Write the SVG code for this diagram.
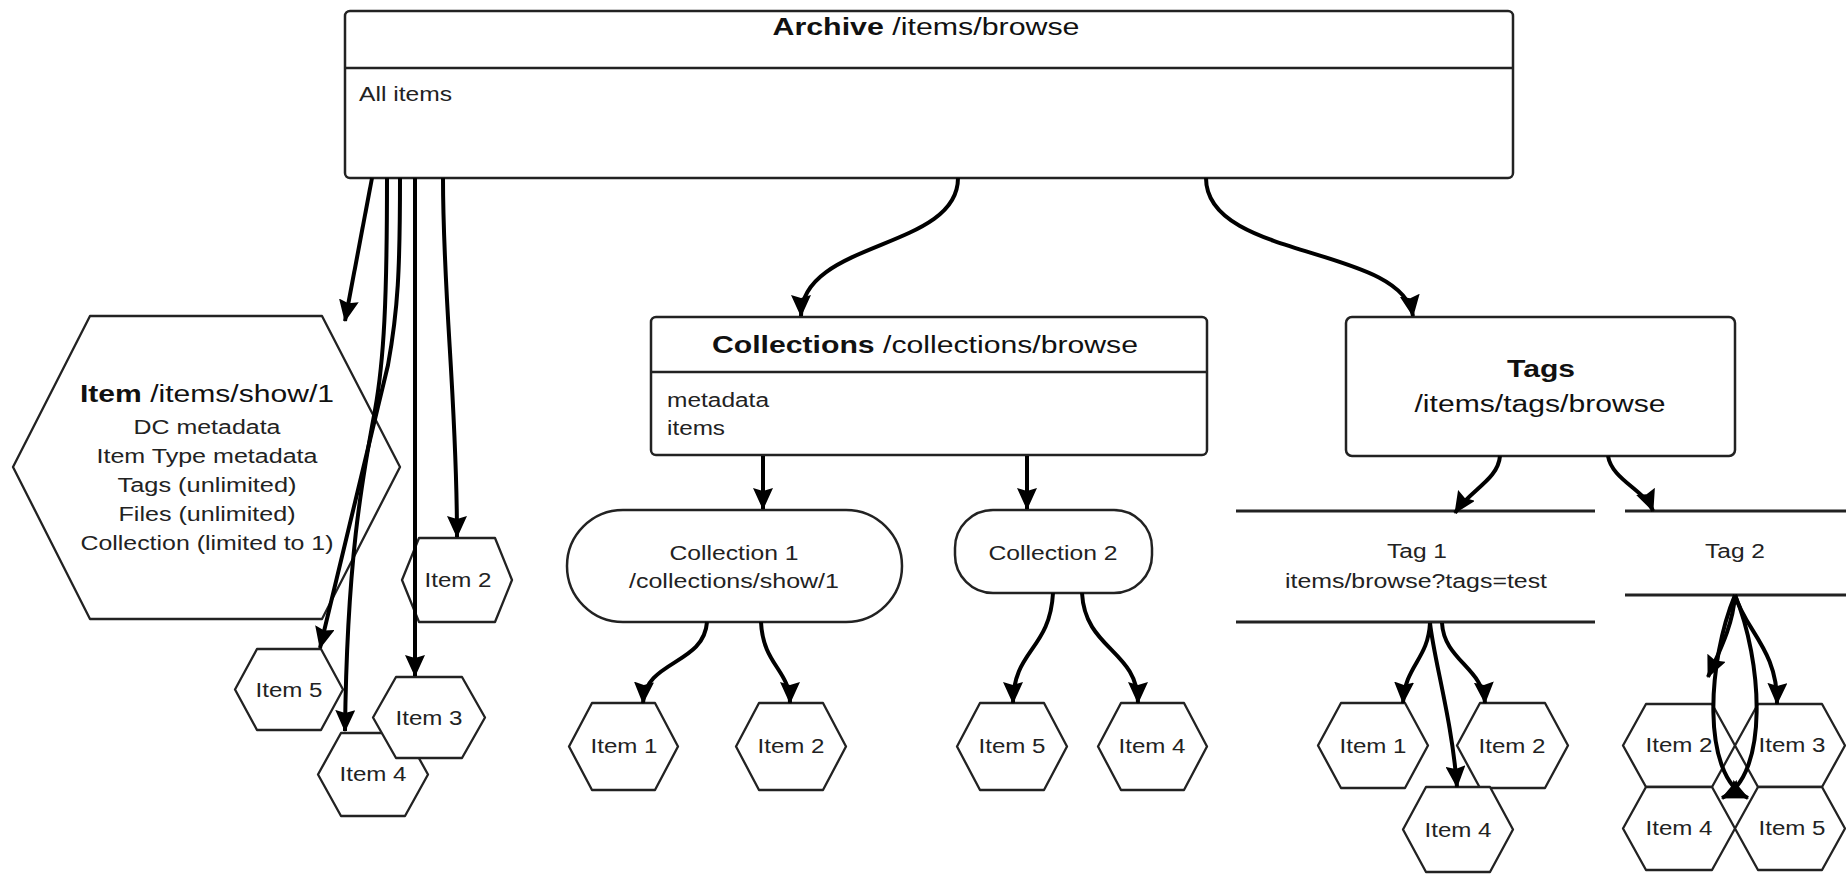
<svg xmlns="http://www.w3.org/2000/svg" width="1846" height="878" viewBox="0 0 1846 878">
<style>
  .box { fill: #fff; stroke: #222; stroke-width: 2.5; }
  .hex { fill: #fff; stroke: #222; stroke-width: 2.3; stroke-linejoin: round; }
  .sep { stroke: #222; stroke-width: 2.5; fill: none; }
  .tl  { stroke: #222; stroke-width: 3; fill: none; }
  .t   { font-family: "Liberation Sans", Arial, sans-serif; font-size: 20px; fill: #222; }
  .h   { font-family: "Liberation Sans", Arial, sans-serif; font-size: 23px; fill: #111; }
  .b   { font-weight: bold; }
  .c   { text-anchor: middle; }
  .edge { fill: none; stroke: #000; stroke-width: 4; marker-end: url(#arrow); }
</style>
<defs>
  <marker id="arrow" markerUnits="userSpaceOnUse" markerWidth="22" markerHeight="20" refX="21" refY="10" orient="auto" viewBox="0 0 22 20">
    <path d="M0,0 L22,10 L0,20 L3,10 z" fill="#000"/>
  </marker>
</defs>
<rect width="1846" height="878" fill="#fff"/>

<g id="archive">
  <rect class="box" x="345" y="11" width="1168" height="167" rx="5"/>
  <line class="sep" x1="345" y1="68" x2="1513" y2="68"/>
  <text class="h c" x="926" y="35" textLength="307" lengthAdjust="spacingAndGlyphs"><tspan class="b">Archive</tspan> /items/browse</text>
  <text class="t" x="359" y="101" textLength="93" lengthAdjust="spacingAndGlyphs">All items</text>
</g>

<g id="item-main">
  <polygon class="hex" points="13,467 90,316 322,316 400,467 322,619 90,619"/>
  <text class="h c" x="207" y="402" textLength="254" lengthAdjust="spacingAndGlyphs"><tspan class="b">Item</tspan> /items/show/1</text>
  <text class="t c" x="207" y="434" textLength="147" lengthAdjust="spacingAndGlyphs">DC metadata</text>
  <text class="t c" x="207" y="463" textLength="221" lengthAdjust="spacingAndGlyphs">Item Type metadata</text>
  <text class="t c" x="207" y="492" textLength="179" lengthAdjust="spacingAndGlyphs">Tags (unlimited)</text>
  <text class="t c" x="207" y="521" textLength="177" lengthAdjust="spacingAndGlyphs">Files (unlimited)</text>
  <text class="t c" x="207" y="550" textLength="253" lengthAdjust="spacingAndGlyphs">Collection (limited to 1)</text>
</g>

<g id="a-item5">
  <polygon class="hex" points="235,689.5 257,649 321,649 343,689.5 321,730 257,730"/>
  <text class="t c" x="289" y="697" textLength="67" lengthAdjust="spacingAndGlyphs">Item 5</text>
</g>
<g id="a-item4">
  <polygon class="hex" points="318,774.5 341,733 405,733 428,774.5 405,816 341,816"/>
  <text class="t c" x="373" y="781" textLength="67" lengthAdjust="spacingAndGlyphs">Item 4</text>
</g>
<g id="a-item3">
  <polygon class="hex" points="373,717.5 396,677 462,677 485,717.5 462,758 396,758"/>
  <text class="t c" x="429" y="725" textLength="67" lengthAdjust="spacingAndGlyphs">Item 3</text>
</g>
<g id="a-item2">
  <polygon class="hex" points="402,580 419,538 495,538 512,580 495,622 419,622"/>
  <text class="t c" x="458" y="587" textLength="67" lengthAdjust="spacingAndGlyphs">Item 2</text>
</g>

<g id="collections">
  <rect class="box" x="651" y="317" width="556" height="138" rx="5"/>
  <line class="sep" x1="651" y1="372" x2="1207" y2="372"/>
  <text class="h c" x="925" y="353" textLength="426" lengthAdjust="spacingAndGlyphs"><tspan class="b">Collections</tspan> /collections/browse</text>
  <text class="t" x="667" y="407" textLength="102" lengthAdjust="spacingAndGlyphs">metadata</text>
  <text class="t" x="667" y="435" textLength="58" lengthAdjust="spacingAndGlyphs">items</text>
</g>

<g id="collection1">
  <rect class="box" x="567" y="510" width="335" height="112" rx="56"/>
  <text class="t c" x="734" y="560" textLength="129" lengthAdjust="spacingAndGlyphs">Collection 1</text>
  <text class="t c" x="734" y="588" textLength="210" lengthAdjust="spacingAndGlyphs">/collections/show/1</text>
</g>
<g id="collection2">
  <rect class="box" x="955" y="510" width="197" height="83" rx="38"/>
  <text class="t c" x="1053" y="560" textLength="129" lengthAdjust="spacingAndGlyphs">Collection 2</text>
</g>

<g id="c1-item1">
  <polygon class="hex" points="569,746.5 592,703 655,703 678,746.5 655,790 592,790"/>
  <text class="t c" x="624" y="753" textLength="67" lengthAdjust="spacingAndGlyphs">Item 1</text>
</g>
<g id="c1-item2">
  <polygon class="hex" points="736,746.5 759,703 823,703 846,746.5 823,790 759,790"/>
  <text class="t c" x="791" y="753" textLength="67" lengthAdjust="spacingAndGlyphs">Item 2</text>
</g>
<g id="c2-item5">
  <polygon class="hex" points="957,746.5 980,703 1044,703 1067,746.5 1044,790 980,790"/>
  <text class="t c" x="1012" y="753" textLength="67" lengthAdjust="spacingAndGlyphs">Item 5</text>
</g>
<g id="c2-item4">
  <polygon class="hex" points="1098,746.5 1121,703 1184,703 1207,746.5 1184,790 1121,790"/>
  <text class="t c" x="1152" y="753" textLength="67" lengthAdjust="spacingAndGlyphs">Item 4</text>
</g>

<g id="tags">
  <rect class="box" x="1346" y="317" width="389" height="139" rx="6"/>
  <text class="h c b" x="1541" y="377" style="font-size:24px" textLength="68" lengthAdjust="spacingAndGlyphs">Tags</text>
  <text class="h c" x="1540" y="412" textLength="251" lengthAdjust="spacingAndGlyphs">/items/tags/browse</text>
</g>

<g id="tag1">
  <line class="tl" x1="1236" y1="511" x2="1595" y2="511"/>
  <line class="tl" x1="1236" y1="622" x2="1595" y2="622"/>
  <text class="t c" x="1417" y="558" textLength="60" lengthAdjust="spacingAndGlyphs">Tag 1</text>
  <text class="t c" x="1416" y="588" textLength="262" lengthAdjust="spacingAndGlyphs">items/browse?tags=test</text>
</g>
<g id="tag2">
  <line class="tl" x1="1625" y1="511" x2="1846" y2="511"/>
  <line class="tl" x1="1625" y1="595" x2="1846" y2="595"/>
  <text class="t c" x="1735" y="558" textLength="60" lengthAdjust="spacingAndGlyphs">Tag 2</text>
</g>

<g id="t1-item1">
  <polygon class="hex" points="1318,745.5 1341,703 1405,703 1428,745.5 1405,788 1341,788"/>
  <text class="t c" x="1373" y="753" textLength="67" lengthAdjust="spacingAndGlyphs">Item 1</text>
</g>
<g id="t1-item2">
  <polygon class="hex" points="1457,745.5 1480,703 1545,703 1568,745.5 1545,788 1480,788"/>
  <text class="t c" x="1512" y="753" textLength="67" lengthAdjust="spacingAndGlyphs">Item 2</text>
</g>
<g id="t1-item4">
  <polygon class="hex" points="1403,829.5 1426,787 1490,787 1513,829.5 1490,872 1426,872"/>
  <text class="t c" x="1458" y="837" textLength="67" lengthAdjust="spacingAndGlyphs">Item 4</text>
</g>

<g id="t2-item2">
  <polygon class="hex" points="1623,745.5 1646,704 1712,704 1735,745.5 1712,787 1646,787"/>
  <text class="t c" x="1679" y="752" textLength="67" lengthAdjust="spacingAndGlyphs">Item 2</text>
</g>
<g id="t2-item3">
  <polygon class="hex" points="1735,745.5 1758,704 1822,704 1845,745.5 1822,787 1758,787"/>
  <text class="t c" x="1792" y="752" textLength="67" lengthAdjust="spacingAndGlyphs">Item 3</text>
</g>
<g id="t2-item4">
  <polygon class="hex" points="1623,828.5 1646,787 1712,787 1735,828.5 1712,870 1646,870"/>
  <text class="t c" x="1679" y="835" textLength="67" lengthAdjust="spacingAndGlyphs">Item 4</text>
</g>
<g id="t2-item5">
  <polygon class="hex" points="1735,828.5 1758,787 1822,787 1845,828.5 1822,870 1758,870"/>
  <text class="t c" x="1792" y="835" textLength="67" lengthAdjust="spacingAndGlyphs">Item 5</text>
</g>

<g id="connectors">
  <path class="edge" d="M372,178 L345,321"/>
  <path class="edge" d="M387,178 C387,300 384,360 375,410 C362,480 347,560 345,731"/>
  <path class="edge" d="M400,178 C400,270 398,310 388,365 L320,648"/>
  <path class="edge" d="M415,178 L415,676"/>
  <path class="edge" d="M443,178 C443,300 457,400 457,537"/>
  <path class="edge" d="M958,178 C958,250 801,240 801,316"/>
  <path class="edge" d="M1206,178 C1206,260 1402,245 1413,316"/>
  <path class="edge" d="M763,456 L763,509"/>
  <path class="edge" d="M1027,456 L1027,509"/>
  <path class="edge" d="M707,622 C704,665 645,660 643,703"/>
  <path class="edge" d="M761,622 C763,665 790,670 790,703"/>
  <path class="edge" d="M1053,593 C1050,650 1013,650 1013,703"/>
  <path class="edge" d="M1082,593 C1085,650 1138,650 1138,703"/>
  <path class="edge" d="M1500,456 C1498,480 1470,490 1455,513"/>
  <path class="edge" d="M1608,456 C1612,480 1645,490 1653,511"/>
  <path class="edge" d="M1430,623 C1428,660 1405,665 1403,703"/>
  <path class="edge" d="M1430,623 C1434,660 1452,720 1457,787"/>
  <path class="edge" d="M1442,623 C1444,660 1483,668 1485,703"/>
  <path class="edge" d="M1735,595 C1733,625 1720,650 1708,677"/>
  <path class="edge" d="M1735,595 C1745,630 1778,650 1777,704"/>
  <path class="edge" d="M1735,595 C1708,660 1700,775 1748,798"/>
  <path class="edge" d="M1735,595 C1762,660 1770,775 1722,798"/>
</g>
</svg>
